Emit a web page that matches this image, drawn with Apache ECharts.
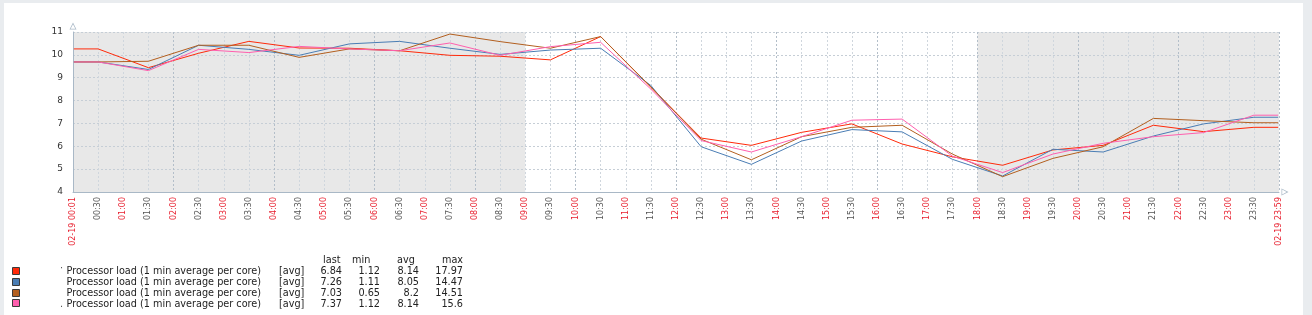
<!DOCTYPE html>
<html><head><meta charset="utf-8">
<script src="https://cdn.jsdelivr.net/npm/echarts@6/dist/echarts.min.js"></script>
<style>
html,body{margin:0;padding:0;background:#e9ecef;width:1312px;height:315px;overflow:hidden}
#panel{position:absolute;left:4px;top:3px;width:1299px;height:312px;background:#fff}
#chart{position:absolute;left:0;top:0;width:1312px;height:315px}
</style></head><body><div id="panel"></div><div id="chart"></div>
<script>
// minutes since 02-19 00:00
const times = [1,30,90,150,210,270,330,390,450,510,570,630,690,750,810,870,930,990,1050,1110,1170,1230,1290,1350,1410,1439];
const redVals   = [10.26,10.26,9.44,10.07,10.59,10.30,10.29,10.18,9.98,9.94,9.78,10.80,8.58,6.36,6.04,6.61,6.98,6.10,5.54,5.17,5.84,6.04,6.92,6.64,6.83,6.83];
const blueVals  = [9.69,9.69,9.36,10.42,10.24,9.98,10.48,10.59,10.29,10.02,10.21,10.29,8.66,5.98,5.21,6.23,6.73,6.63,5.43,4.70,5.87,5.75,6.45,6.98,7.27,7.27];
const brownVals = [9.69,9.69,9.72,10.42,10.42,9.89,10.26,10.18,10.91,10.58,10.29,10.80,8.60,6.31,5.41,6.42,6.83,6.92,5.66,4.67,5.47,5.98,7.22,7.12,7.03,7.03];
const pinkVals  = [9.69,9.69,9.31,10.24,10.10,10.37,10.26,10.18,10.52,9.98,10.36,10.55,8.50,6.25,5.75,6.42,7.14,7.19,5.57,4.85,5.66,6.13,6.42,6.60,7.36,7.36];

const xLabels = ['02-19 00:01','00:30','01:00','01:30','02:00','02:30','03:00','03:30','04:00','04:30','05:00','05:30','06:00','06:30','07:00','07:30','08:00','08:30','09:00','09:30','10:00','10:30','11:00','11:30','12:00','12:30','13:00','13:30','14:00','14:30','15:00','15:30','16:00','16:30','17:00','17:30','18:00','18:30','19:00','19:30','20:00','20:30','21:00','21:30','22:00','22:30','23:00','23:30','02-19 23:59'];
const yTicks = [4,5,6,7,8,9,10,11];
const shadeRanges = [[0,540],[1080,1440]];

const seriesNames = ['Processor load (1 min average per core)','Processor load (1 min average per core)','Processor load (1 min average per core)','Processor load (1 min average per core)'];
const seriesColors = ['#ff2a0a','#4a7db4','#b35f1f','#ff5fae'];
const seriesValues = [redVals, blueVals, brownVals, pinkVals];
const aggLabel = '[avg]';
const statHeaders = ['last','min','avg','max'];
const lastVals = ['6.84','7.26','7.03','7.37'];
const minVals  = ['1.12','1.11','0.65','1.12'];
const avgVals  = ['8.14','8.05','8.2','8.14'];
const maxVals  = ['17.97','14.47','14.51','15.6'];
const rowMarks = ['\u00b7','','','.'];

const FONT = '"DejaVu Sans", sans-serif';
const arrowPath = 'path://M5 0L10 10L0 10Z M5 2.6L1.6 9L8.4 9Z';
const axisColor = '#a9b8c6';

const chart = echarts.init(document.getElementById('chart'), null, {renderer:'canvas'});

const lineSeries = seriesValues.map((vals, si) => ({
  type:'line', name: seriesNames[si] + si, xAxisIndex:0, yAxisIndex:0,
  data: times.map((t,i)=>[t, vals[i]]),
  showSymbol:false, symbol:'none', z:3,
  lineStyle:{color:seriesColors[si], width:1}, itemStyle:{color:seriesColors[si]},
  animation:false, silent:true
}));

const graphics = [];
const rowY = [271.7, 282.6, 293.5, 304.4];
const headerY = 260.7;
const statRight = [342, 380, 419, 463];
const headerLeft = [323, 352, 397, 442];
statHeaders.forEach((h,i)=>{
  graphics.push({type:'text', style:{text:h, x:headerLeft[i], y:headerY, font:'9.7px '+FONT, fill:'#222', align:'left', verticalAlign:'middle', textAlign:'left', textVerticalAlign:'middle'}});
});
const statCols = [lastVals, minVals, avgVals, maxVals];
seriesNames.forEach((name,i)=>{
  const y = rowY[i];
  graphics.push({type:'rect', shape:{x:12.5, y:Math.round(y)-4.5, width:7, height:7}, style:{fill:seriesColors[i], stroke:'#3a3a3a', lineWidth:1}});
  if (rowMarks[i]) graphics.push({type:'text', style:{text:rowMarks[i], x:60, y: i===0 ? y-3 : y, font:'9.7px '+FONT, fill:'#555', align:'left', verticalAlign:'middle', textAlign:'left', textVerticalAlign:'middle'}});
  graphics.push({type:'text', style:{text:name, x:66.5, y:y, font:'9.7px '+FONT, fill:'#222', align:'left', verticalAlign:'middle', textAlign:'left', textVerticalAlign:'middle'}});
  graphics.push({type:'text', style:{text:aggLabel, x:279, y:y, font:'9.7px '+FONT, fill:'#222', align:'left', verticalAlign:'middle', textAlign:'left', textVerticalAlign:'middle'}});
  statCols.forEach((col,c)=>{
    graphics.push({type:'text', style:{text:col[i], x:statRight[c], y:y, font:'9.7px '+FONT, fill:'#222', align:'right', verticalAlign:'middle', textAlign:'right', textVerticalAlign:'middle'}});
  });
});

chart.setOption({
  animation:false,
  backgroundColor:'transparent',
  textStyle:{fontFamily:FONT},
  grid:{left:73, right:33, top:32, bottom:123, containLabel:false, outerBoundsMode:'none'},
  xAxis:[{
    type:'value', min:0, max:1440, interval:30, z:2,
    axisLine:{show:true, lineStyle:{color:axisColor, width:1}, symbol:['none', arrowPath], symbolSize:[7,7], symbolOffset:[0,6]},
    axisTick:{show:false},
    axisLabel:{show:true, rotate:90, margin:5, fontSize:8, fontFamily:FONT, showMinLabel:true, showMaxLabel:true,
      formatter:(v)=>xLabels[Math.round(v/30)],
      color:(v)=>{ const k=Math.round(Number(v)/30); return (k%2===0)?'#e8202f':'#555'; }},
    splitLine:{show:true, lineStyle:{color:'#cfd6dd', width:1, type:[2,2]}}
  },{
    type:'value', min:0, max:1440, interval:120, z:2, position:'top',
    axisLine:{show:false}, axisTick:{show:false}, axisLabel:{show:false},
    splitLine:{show:true, lineStyle:{color:'#b3bec9', width:1, type:[2,2]}}
  }],
  yAxis:{
    type:'value', min:yTicks[0], max:yTicks[yTicks.length-1], interval:1, z:2,
    axisLine:{show:true, lineStyle:{color:axisColor, width:1}, symbol:['none', arrowPath], symbolSize:[7,7], symbolOffset:[0,6]},
    axisTick:{show:false},
    axisLabel:{show:true, fontSize:9, color:'#333', margin:10, fontFamily:FONT},
    splitLine:{show:true, lineStyle:{color:'#c6ced6', width:1, type:[2,2]}}
  },
  series:[{
    type:'line', data:[], z:1, silent:true,
    markArea:{silent:true, itemStyle:{color:'#e8e8e8'}, data: shadeRanges.map(r=>[{xAxis:r[0]},{xAxis:r[1]}])}
  }].concat(lineSeries),
  graphic: graphics
});
</script></body></html>
